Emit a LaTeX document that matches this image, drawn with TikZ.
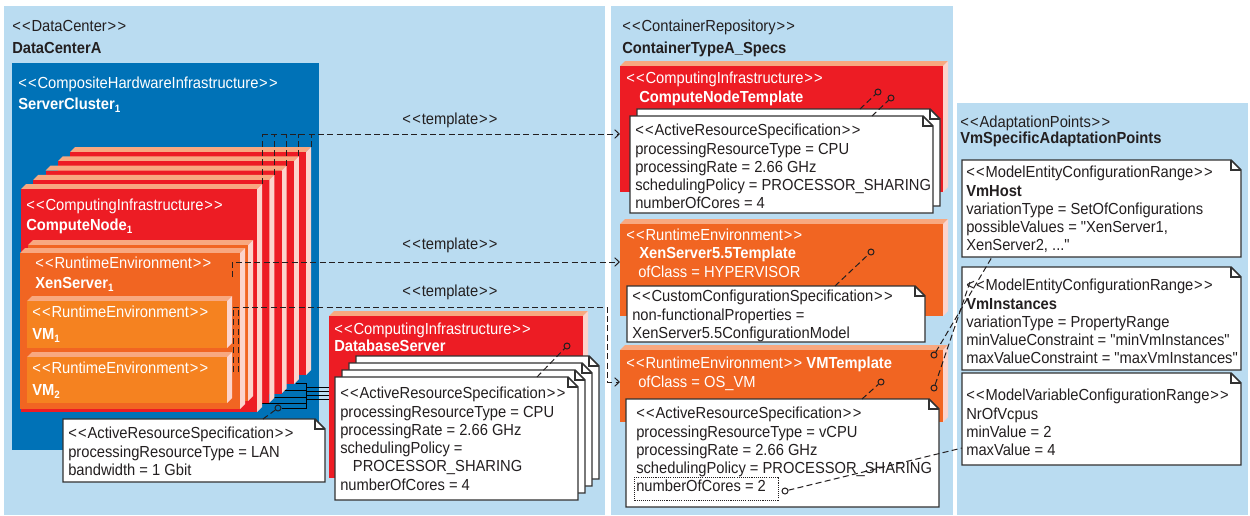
\documentclass[tikz,border=0pt]{standalone}
\usepackage{fontspec}
\newfontfamily\lsans{Liberation Sans}[FakeStretch=0.92]
\usetikzlibrary{arrows.meta}
\definecolor{panelblue}{RGB}{186,220,241}
\definecolor{clusterblue}{RGB}{0,114,183}
\definecolor{nodered}{RGB}{237,28,36}
\definecolor{topface}{RGB}{248,168,128}
\definecolor{sideface}{RGB}{252,212,204}
\definecolor{xenorange}{RGB}{241,101,34}
\definecolor{vmorange}{RGB}{245,130,32}
\definecolor{darktext}{RGB}{35,31,32}
\definecolor{notegray}{RGB}{50,50,50}
\newcommand\fsz{\lsans\fontsize{12pt}{13.7pt}\selectfont}
\newcommand\stt{\rule{0pt}{9.2pt}}
\newcommand\sto[1]{<\kern1pt<\kern0.6pt#1\kern0.6pt>\kern1pt>}
\tikzset{
  txt/.style={anchor=north west, inner sep=0pt, align=left, font=\fsz, text=darktext},
  wtxt/.style={txt, text=white},
  notebox/.style={draw=notegray, line width=1.1pt, fill=white, line join=miter},
  conn/.style={draw=darktext, line width=0.75pt, dash pattern=on 4.5pt off 2.5pt},
  arr/.style={-{Straight Barb[length=3.5pt,width=6.5pt]}},
  pin/.style={circle, draw=darktext, line width=0.75pt, inner sep=0pt, minimum size=4.5pt},
  lan/.style={draw=black, line width=0.75pt},
  lbl/.style={inner sep=0pt, font=\fsz, text=darktext},
}
\newcommand\txtat[5][txt]{\node[#1] (#2) at (#3,#4-6.8) {\stt #5};}
\newcommand\tdbox[6]{%
  \fill[topface] (#2,#3) -- (#2+5,#3-5) -- (#4+5,#3-5) -- (#4,#3) -- cycle;
  \fill[sideface] (#4,#3) -- (#4+5,#3-5) -- (#4+5,#5-5) -- (#4,#5) -- cycle;
  \fill[#6] (#2,#3) rectangle (#4,#5);
  \coordinate (#1) at (#2,#3);}
\newcommand\mknote[5]{%
  \draw[notebox] (#2,#3) -- (#4-10,#3) -- (#4,#3+10) -- (#4,#5) -- (#2,#5) -- cycle;
  \draw[notebox, fill=none] (#4-10,#3) -- (#4-10,#3+10) -- (#4,#3+10);
  \coordinate (#1) at (#2,#3);}
\begin{document}
\begin{tikzpicture}[x=0.75pt,y=-0.75pt]
\useasboundingbox (0,0) rectangle (1250,515);
\fill[white] (0,0) rectangle (1250,515);
% panels
\fill[panelblue] (4,6) rectangle (605,515);
\fill[panelblue] (611,6) rectangle (953,515);
\fill[panelblue] (957,103) rectangle (1248,515);
% ---------- panel 1
\txtat{dcst}{12}{26}{\sto{DataCenter}}
\txtat{dcn}{12}{48}{\textbf{DataCenterA}}
\fill[clusterblue] (12,63) rectangle (319,450);
\txtat[wtxt]{scst}{18}{83}{\sto{CompositeHardwareInfrastructure}}
\txtat[wtxt]{scn}{18}{104}{\textbf{ServerCluster\textsubscript{1}}}
% LAN wiring (under the nodes)
\coordinate (bus1) at (306,383);
\coordinate (bus2) at (306,409);
\draw[lan] (bus1) -- (bus2);
\draw[lan] (296,383) -- (bus1);
\draw[lan] (283,390) -- (306,390);
\draw[lan] (270,397) -- (306,397);
\draw[lan] (258,403) -- (306,403);
\foreach \yy in {387,391,395,399} \draw[lan] (306,\yy) -- (329,\yy);
% compute node stack
\foreach \i in {4,3,2,1,0} {
  \pgfmathsetmacro\xa{21+12.3*\i}
  \pgfmathsetmacro\ya{189-9.25*\i}
  \pgfmathsetmacro\xb{257+12.3*\i}
  \pgfmathsetmacro\yb{412-9.25*\i}
  \tdbox{cn\i}{\xa}{\ya}{\xb}{\yb}{nodered}
}
\txtat[wtxt]{cnst}{26}{205}{\sto{ComputingInfrastructure}}
\txtat[wtxt]{cnn}{26}{225}{\textbf{ComputeNode\textsubscript{1}}}
% XenServer
\tdbox{xenb}{28}{245}{248}{401}{xenorange}
\tdbox{xen}{20}{253}{240}{409}{xenorange}
\txtat[wtxt]{xenst}{35}{263}{\sto{RuntimeEnvironment}}
\txtat[wtxt]{xenn}{35}{283}{\textbf{XenServer\textsubscript{1}}}
\tdbox{vma}{27}{301}{227}{348}{vmorange}
\txtat[wtxt]{vmast}{32}{312}{\sto{RuntimeEnvironment}}
\txtat[wtxt]{vman}{32}{334}{\textbf{VM\textsubscript{1}}}
\tdbox{vmb}{27}{357}{227}{403}{vmorange}
\txtat[wtxt]{vmbst}{32}{368}{\sto{RuntimeEnvironment}}
\txtat[wtxt]{vmbn}{32}{390}{\textbf{VM\textsubscript{2}}}
% template connectors
\foreach \i in {0,...,4} {
  \pgfmathsetmacro\xs{262+12.3*\i}
  \pgfmathsetmacro\yt{184-9.25*\i}
  \draw[conn] (\xs,\yt) -- (\xs,134);
}
\coordinate (t1s) at (262,134);
\coordinate (t1e) at (620,134);
\draw[conn,arr] (t1s) -- (t1e);
\node[lbl] (tl1) at (450,120) {\sto{template}};
\coordinate (t2s) at (232,277);
\coordinate (t2e) at (620,262);
\draw[conn,arr] (t2s) -- (232,262) -- (t2e);
\node[lbl] (tl2) at (450,245) {\sto{template}};
\coordinate (t3s) at (233,372);
\coordinate (t3b) at (238,372);
\coordinate (t3e) at (620,382);
\draw[conn,arr] (t3s) -- (233,307) -- (607,307) -- (607,382) -- (t3e);
\draw[conn] (t3b) -- (238,307);
\node[lbl] (tl3) at (450,292) {\sto{template}};
% Database server
\tdbox{db}{329}{316}{583}{478}{nodered}
\txtat[wtxt]{dbst}{334}{329}{\sto{ComputingInfrastructure}}
\txtat[wtxt]{dbn}{334}{346}{\textbf{DatabaseServer}}
\foreach \i in {3,2,1,0} {
  \pgfmathsetmacro\xa{335+7*\i}
  \pgfmathsetmacro\ya{377-7*\i}
  \pgfmathsetmacro\xb{578+7*\i}
  \pgfmathsetmacro\yb{500-7*\i}
  \mknote{dbnote\i}{\xa}{\ya}{\xb}{\yb}
}
\txtat{dbt}{340}{393}{\sto{ActiveResourceSpecification}\\processingResourceType = CPU\\processingRate = 2.66 GHz\\schedulingPolicy =\\\hspace*{9.5pt}PROCESSOR\_SHARING\\numberOfCores = 4}
\node[pin] (dbpin) at (567,346) {};
\coordinate (dbnt) at (537,377);
\draw[conn] (dbnt) -- (dbpin);
% LAN note
\mknote{lann}{63}{419}{325}{482}
\txtat{lant}{68}{433}{\sto{ActiveResourceSpecification}\\processingResourceType = LAN\\bandwidth = 1 Gbit}
\node[pin] (lanpin) at (278,408) {};
\draw[lan] (lanpin) -- (306,408);
\coordinate (lannt) at (263,419);
\draw[conn] (lannt) -- (lanpin);
% ---------- panel 2
\txtat{crst}{622}{26}{\sto{ContainerRepository}}
\txtat{crn}{622}{48}{\textbf{ContainerTypeA\_Specs}}
\tdbox{cnt}{620}{66}{943}{192}{nodered}
\txtat[wtxt]{cntst}{626}{78}{\sto{ComputingInfrastructure}}
\txtat[wtxt]{cntn}{639}{97}{\textbf{ComputeNodeTemplate}}
\mknote{cntnb}{637}{109}{940}{206}
\mknote{cntnf}{630}{116}{933}{213}
\txtat{cntt}{635}{130}{\sto{ActiveResourceSpecification}\\processingResourceType = CPU\\processingRate = 2.66 GHz\\schedulingPolicy = PROCESSOR\_SHARING\\numberOfCores = 4}
\node[pin] (cpa) at (878,92) {};
\node[pin] (cpb) at (891,98) {};
\coordinate (cnta) at (860,109);
\coordinate (cntb) at (872,116);
\draw[conn] (cnta) -- (cpa);
\draw[conn] (cntb) -- (cpb);
% XenServer5.5Template
\tdbox{xt}{620}{224}{943}{316}{xenorange}
\txtat[wtxt]{xtst}{626}{235}{\sto{RuntimeEnvironment}}
\txtat[wtxt]{xtn}{639}{253}{\textbf{XenServer5.5Template}}
\txtat[wtxt]{xtc}{638}{272}{ofClass = HYPERVISOR}
\mknote{xtnote}{627}{286}{925}{342}
\txtat{xtt}{632}{296}{\sto{CustomConfigurationSpecification}\\non-functionalProperties =\\XenServer5.5ConfigurationModel}
\node[pin] (xtpin) at (871,252) {};
\coordinate (xtnt) at (835,286);
\draw[conn] (xtnt) -- (xtpin);
% VMTemplate
\tdbox{vt}{620}{350}{943}{422}{xenorange}
\txtat[wtxt]{vtst}{626}{363}{\sto{RuntimeEnvironment} \textbf{VMTemplate}}
\txtat[wtxt]{vtc}{638}{382}{ofClass = OS\_VM}
\mknote{vtnote}{626}{399}{939}{507}
\txtat{vtt}{636}{413}{\sto{ActiveResourceSpecification}\\processingResourceType = vCPU\\processingRate = 2.66 GHz\\schedulingPolicy = PROCESSOR\_SHARING\\numberOfCores = 2}
\draw[darktext, line width=0.6pt, dash pattern=on 0.8pt off 0.8pt] (634,477) rectangle (778,500);
\node[pin] (corespin) at (785,491) {};
\node[pin] (vtpin) at (881,382) {};
\coordinate (vtnt) at (862,399);
\draw[conn] (vtnt) -- (vtpin);
\node[pin] (hostpin) at (934,355) {};
\node[pin] (instpin) at (934,388) {};
% ---------- panel 3
\txtat{apst}{960}{122}{\sto{AdaptationPoints}}
\txtat{apn}{960}{138}{\textbf{VmSpecificAdaptationPoints}}
\mknote{hostnote}{962}{160}{1241}{257}
\txtat{hostt}{966}{172}{\sto{ModelEntityConfigurationRange}\\\textbf{VmHost}\\variationType = SetOfConfigurations\\possibleValues = "XenServer1,\\XenServer2, ..."}
\mknote{instnote}{962}{267}{1241}{370}
\txtat{instt}{966}{285}{\sto{ModelEntityConfigurationRange}\\\textbf{VmInstances}\\variationType = PropertyRange\\minValueConstraint = "minVmInstances"\\maxValueConstraint = "maxVmInstances"}
\mknote{nrvnote}{962}{373}{1241}{465}
\txtat{nrvt}{966}{395}{\sto{ModelVariableConfigurationRange}\\NrOfVcpus\\minValue = 2\\maxValue = 4}
% adaptation links
\coordinate (hostb) at (992,257);
\coordinate (insta) at (970,282);
\coordinate (nrvl) at (962,448);
\draw[conn] (hostpin) -- (hostb);
\draw[conn] (instpin) -- (insta);
\draw[conn] (corespin) -- (nrvl);
\end{tikzpicture}
\end{document}
